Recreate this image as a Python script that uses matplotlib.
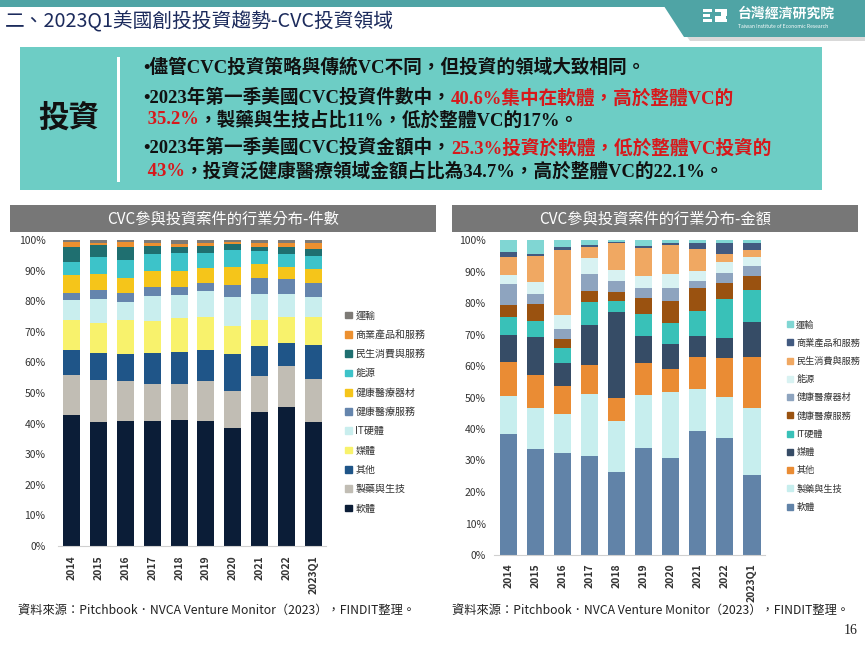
import numpy as np
import matplotlib
matplotlib.use("Agg")
import matplotlib.pyplot as plt
from matplotlib.patches import Rectangle, Polygon, Patch

W, H = 865, 649

years = ["2014", "2015", "2016", "2017", "2018", "2019", "2020", "2021", "2022", "2023Q1"]
sectors = ["軟體", "製藥與生技", "其他", "媒體", "IT硬體", "健康醫療服務",
           "健康醫療器材", "能源", "民生消費與服務", "商業產品和服務", "運輸"]

# 件數 (deal count share, %), one list per sector, bottom to top
cnt_software = [42.7, 40.6, 40.9, 40.9, 41.2, 41.0, 38.7, 43.8, 45.5, 40.6]
cnt_pharma = [13.3, 13.7, 12.9, 12.2, 11.6, 12.9, 11.9, 11.6, 13.4, 13.9]
cnt_other = [8.0, 8.8, 8.9, 10.1, 10.5, 10.3, 12.1, 9.9, 7.6, 11.3]
cnt_media = [9.9, 9.7, 11.0, 10.3, 11.2, 10.6, 9.2, 8.7, 8.3, 9.0]
cnt_it = [6.4, 7.8, 6.1, 8.1, 7.4, 8.4, 9.5, 8.4, 7.6, 6.6]
cnt_hc_serv = [2.4, 3.1, 3.0, 3.1, 2.9, 2.8, 3.8, 5.3, 5.0, 4.6]
cnt_hc_dev = [5.8, 5.3, 4.8, 5.1, 5.1, 4.7, 6.0, 4.4, 3.8, 4.5]
cnt_energy = [4.4, 5.3, 6.0, 5.5, 5.7, 4.9, 5.4, 4.3, 4.2, 4.4]
cnt_consumer = [4.8, 4.1, 4.0, 2.9, 2.2, 2.4, 2.0, 1.3, 2.2, 2.0]
cnt_b2b = [1.5, 0.6, 1.6, 0.7, 0.9, 0.9, 0.7, 1.4, 1.3, 2.0]
cnt_transport = [0.8, 1.0, 0.8, 1.1, 1.3, 1.1, 0.7, 0.9, 1.1, 1.1]

# 金額 (deal value share, %)
amt_software = [38.3, 33.5, 32.3, 31.5, 26.5, 34.1, 30.7, 39.4, 37.0, 25.3]
amt_pharma = [12.1, 13.3, 12.4, 19.6, 16.0, 16.7, 21.2, 13.4, 13.3, 21.5]
amt_other = [10.8, 10.2, 9.0, 9.3, 7.2, 10.0, 7.3, 10.0, 12.1, 16.0]
amt_media = [8.5, 12.1, 7.1, 12.5, 27.3, 8.6, 7.9, 6.6, 6.6, 11.2]
amt_it = [5.9, 5.2, 4.8, 7.3, 3.7, 7.1, 6.7, 8.0, 12.2, 10.1]
amt_hc_serv = [3.7, 5.4, 2.9, 3.7, 2.9, 5.0, 6.9, 7.4, 5.3, 4.6]
amt_hc_dev = [6.6, 3.3, 3.2, 5.2, 3.4, 3.2, 4.0, 2.2, 2.9, 3.0]
amt_energy = [3.0, 3.8, 4.4, 5.3, 3.5, 3.9, 4.5, 3.2, 3.5, 2.8]
amt_consumer = [5.6, 8.0, 20.7, 3.5, 8.4, 8.8, 9.3, 6.9, 2.7, 2.3]
amt_b2b = [1.6, 0.6, 1.0, 0.5, 0.5, 0.8, 0.7, 2.1, 3.6, 2.1]
amt_transport = [3.9, 4.6, 2.2, 1.6, 0.6, 1.8, 0.8, 0.8, 0.8, 1.1]

cnt_data = [cnt_software, cnt_pharma, cnt_other, cnt_media, cnt_it, cnt_hc_serv,
            cnt_hc_dev, cnt_energy, cnt_consumer, cnt_b2b, cnt_transport]
amt_data = [amt_software, amt_pharma, amt_other, amt_media, amt_it, amt_hc_serv,
            amt_hc_dev, amt_energy, amt_consumer, amt_b2b, amt_transport]

cnt_colors = ["#0b1d37", "#c1bdb4", "#1f5588", "#f8f26c", "#c9eeee", "#6585ad",
              "#f5c51a", "#3dc3c9", "#1f6f70", "#ec9030", "#7d7a76"]
amt_colors = ["#6183a8", "#c7eeee", "#ea8c34", "#364c66", "#39c1b8", "#9a5210",
              "#8ea4bf", "#d8f2f2", "#f0a862", "#425a80", "#80d6d3"]

CJK = ["Noto Sans CJK TC", "DejaVu Sans"]
SERIF_CJK = ["Liberation Serif", "Noto Sans CJK TC"]

fig = plt.figure(figsize=(W / 100, H / 100), dpi=100)
fig.patch.set_facecolor("white")


def fx(px):
    return px / W


def fy(py):
    return 1 - py / H


def rect(x0, y0, x1, y1, **kw):
    fig.add_artist(Rectangle((fx(x0), fy(y1)), fx(x1) - fx(x0), fy(y0) - fy(y1),
                             transform=fig.transFigure, **kw))


# header
rect(0, 0, W, 7, color="#4fa4a5", lw=0)
fig.add_artist(Polygon([(fx(662), fy(0)), (fx(W), fy(0)), (fx(W), fy(41)), (fx(690), fy(41))],
                       closed=True, transform=fig.transFigure, color="#d9d9d9", lw=0))
fig.add_artist(Polygon([(fx(660), fy(0)), (fx(W), fy(0)), (fx(W), fy(37)), (fx(684), fy(37))],
                       closed=True, transform=fig.transFigure, color="#4fa4a5", lw=0))
# logo blocks
for (a, b, c, d) in [(703, 9, 712, 12), (703, 14, 710, 17), (703, 19, 712, 22),
                     (715, 9, 727, 12), (721, 12, 727, 16), (715, 16, 726, 19), (715, 19, 727, 22)]:
    rect(a, b, c, d, color="white", lw=0)
fig.text(fx(738), fy(14), "台灣經濟研究院", fontsize=10, color="white", weight="bold",
         family=CJK, va="center", ha="left")
fig.text(fx(738), fy(26), "Taiwan Institute of Economic Research", fontsize=3.6,
         color="white", va="center", ha="left", family=CJK)

fig.text(fx(5), fy(22), "二、2023Q1美國創投投資趨勢-CVC投資領域", fontsize=14.2,
         color="#1c2b5c", family=CJK, va="center", ha="left")

# summary box
rect(20, 47, 822, 190, color="#6dcdc5", lw=0)
rect(117, 57, 120, 182, color="white", lw=0)
fig.text(fx(69), fy(118), "投資", fontsize=22, color="#111111", family=CJK,
         weight="bold", va="center", ha="center")

RED = "#d7191c"
BLK = "#111111"
lines = [
    (67, [("•儘管CVC投資策略與傳統VC不同，但投資的領域大致相同。", BLK)]),
    (98, [("•2023年第一季美國CVC投資件數中，", BLK), ("40.6%集中在軟體，高於整體VC的", RED)]),
    (120, [(" 35.2%", RED), ("，製藥與生技占比11%，低於整體VC的17%。", BLK)]),
    (148, [("•2023年第一季美國CVC投資金額中，", BLK), ("25.3%投資於軟體，低於整體VC投資的", RED)]),
    (171, [(" 43%", RED), ("，投資泛健康醫療領域金額占比為34.7%，高於整體VC的22.1%。", BLK)]),
]
renderer = fig.canvas.get_renderer()
for ypx, parts in lines:
    x = fx(143)
    for s, c in parts:
        t = fig.text(x, fy(ypx), s, color=c, fontsize=13.4, weight="bold",
                     family=SERIF_CJK, va="center", ha="left")
        x += t.get_window_extent(renderer).width / W

# chart title bars
for (x0, x1, title) in [(10, 436, "CVC參與投資案件的行業分布-件數"),
                        (452, 858, "CVC參與投資案件的行業分布-金額")]:
    rect(x0, 205, x1, 232, color="#777777", lw=0)
    fig.text(fx((x0 + x1) / 2), fy(218.5), title, fontsize=11, color="white",
             family=CJK, va="center", ha="center")


def stacked(ax_px, data, colors, leg_x, leg_y, leg_fs, leg_space, ypad, xpad):
    x0, y0, x1, y1 = ax_px
    ax = fig.add_axes([fx(x0), fy(y1), fx(x1) - fx(x0), fy(y0) - fy(y1)])
    pos = np.arange(len(years))
    bottom = np.zeros(len(years))
    handles = []
    for name, vals, col in zip(sectors, data, colors):
        ax.bar(pos, vals, 0.63, bottom=bottom, color=col, lw=0)
        bottom += np.array(vals)
        handles.append(Patch(color=col, label=name))
    ax.set_xlim(-0.52, 9.48)
    ax.set_ylim(0, 100)
    ax.set_yticks(np.arange(0, 101, 10))
    ax.set_yticklabels([f"{v}%" for v in range(0, 101, 10)], fontsize=7.5,
                       color="#333333", family=CJK)
    ax.set_xticks(pos)
    ax.set_xticklabels(years, rotation=90, fontsize=7.5, color="#333333",
                       family=CJK, weight="bold")
    ax.tick_params(axis="y", length=0, pad=ypad)
    ax.tick_params(axis="x", length=0, pad=xpad)
    for s in ["top", "right", "left"]:
        ax.spines[s].set_visible(False)
    ax.spines["bottom"].set_color("#d0d0d0")
    ax.set_facecolor("none")
    leg = ax.legend(handles[::-1], sectors[::-1], loc="center left",
                    bbox_to_anchor=(fx(leg_x), fy(leg_y)), bbox_transform=fig.transFigure,
                    frameon=False, fontsize=leg_fs, handlelength=0.65, handleheight=0.65,
                    handletextpad=0.4, labelspacing=leg_space, borderpad=0)
    for t in leg.get_texts():
        t.set_family(CJK)
        t.set_color("#333333")
    return ax


stacked((58, 240, 326, 546), cnt_data, cnt_colors, 340, 412, 7.2, 0.93, 9, 7)
stacked((494, 240, 765, 555), amt_data, amt_colors, 782, 416, 6.6, 1.0, 6, 6)

src = "資料來源：Pitchbook．NVCA Venture Monitor（2023），FINDIT整理。"
fig.text(fx(18), fy(610), src, fontsize=8.8, color="#222222", family=CJK, va="center")
fig.text(fx(452), fy(610), src, fontsize=8.8, color="#222222", family=CJK, va="center")
fig.text(fx(858), fy(630), "16", fontsize=10, color="#222222",
         family=["Liberation Serif"], va="center", ha="right")

fig.savefig("out.png", dpi=100)
